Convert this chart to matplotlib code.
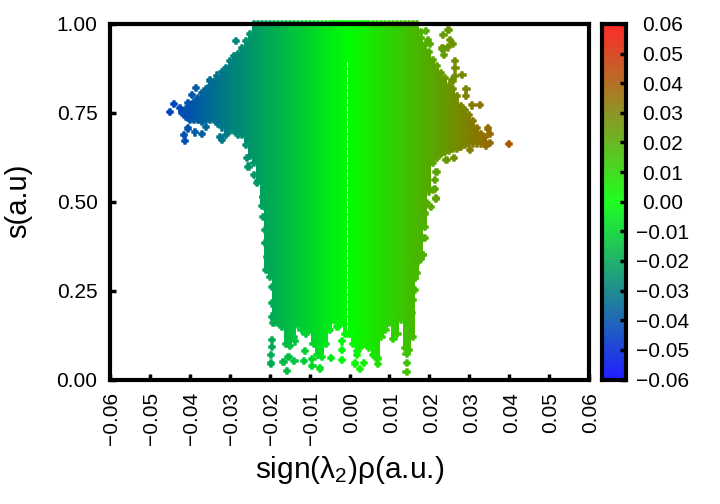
import numpy as np
import matplotlib
matplotlib.use("Agg")
import matplotlib.pyplot as plt
from matplotlib.colors import LinearSegmentedColormap, Normalize
from matplotlib.transforms import ScaledTranslation

plt.rcParams['font.family'] = ['Liberation Sans', 'DejaVu Sans']
plt.rcParams['mathtext.fontset'] = 'custom'
plt.rcParams['mathtext.rm'] = 'Liberation Sans'
plt.rcParams['mathtext.it'] = 'Liberation Sans'
plt.rcParams['mathtext.default'] = 'rm'

# Body of the cloud, column by column: sign(l2)rho, lowest s, highest s
column_x = [v / 1000 for v in range(-42, 35)]
column_low = [.74, .73, .72, .72, .72, .715, .72, .72, .72, .71, .70, .68, .69, .69, .68, .68, .65, .62, .60, .55,
              .48, .30, .28, .16, .15, .14, .09, .085, .11, .145, .13, .12, .13, .09, .06, .055, .09, .13, .16, .14,
              .15, .12, .12, .09, .07, .085, .09, .08, .06, .05, .11, .13, .15, .105, .12, .16, .08, .075, .11, .29,
              .33, .42, .52, .60, .615, .625, .63, .635, .64, .64, .645, .65, .655, .655, .655, .655, .66]
column_high = [.765, .77, .78, .79, .80, .815, .825, .835, .845, .855, .875, .885, .905, .92, .925, .94, .96, .98,
               1, 1, 1, 1, 1, 1, 1, 1, 1, 1, 1, 1, 1, 1, 1, 1, 1, 1, 1, 1, 1, 1, 1, 1, 1, 1, 1, 1, 1, 1, 1, 1,
               1, 1, 1, 1, 1, 1, 1, 1, 1, 1, .969, .95, .93, .907, .89, .87, .856, .835, .825, .806, .778, .768,
               .754, .735, .716, .70, .69]

# Individually visible points around the cloud
point_x = [-.02838, -.04488, -.04388, -.04254, -.04054, -.03946, -.03846, -.03496, -.03321, -.04113, -.04138,
           -.04054, -.03879, -.03704, -.03604, -.03196, -.03238, -.0257, -.0253, -.0232, -.0240, -.0216,
           .03996, .0248, .02354, .02513, .02596, .0233, .0247, .0236, .02638, .02654, .0283, .02638, .0258,
           .0293, .0291, .0308, .03263, .0347, .0351, .0351, .0341, .0301, .0261, .0243, .0218, .0214, .0214,
           .0216, .0191, .0179, .0197, .0201,
           -.01946, -.01946, -.01963, -.01971, -.01571, -.01654, -.01529, -.01379, -.01363, -.01138, -.01113,
           -.00929, -.00929, -.00738, -.00471, -.00179, -.00179, -.00196, .00137, .00263, .00371, .00179,
           .00721, .01429, .01446, .01429, .0204, .0216, .0183, .0185, .0189, .0164,
           -.02154, -.02113, -.02154, -.02113, -.02113, -.02071, -.02029, -.01946, -.01946, -.01946, -.01904,
           .02096, .01929, .01888, .01804, .01846, .01846, .0172, .01638, .01638, .01596, .01554]
point_s = [.952, .753, .776, .763, .777, .800, .819, .841, .855, .672, .688,
           .706, .695, .690, .711, .674, .683, .622, .599, .552, .575, .514,
           .663, .983, .970, .955, .943, .931, .934, .914, .897, .875, .856, .854, .841,
           .816, .797, .771, .773, .706, .690, .666, .657, .646, .624, .618, .583, .561, .535,
           .510, .981, .978, .955, .943,
           .111, .092, .069, .045, .024, .050, .064, .052, .107, .052, .080,
           .058, .039, .031, .061, .055, .083, .107, .045, .029, .047, .069,
           .043, .073, .047, .020, .486, .507, .439, .350, .397, .285,
           .514, .486, .458, .420, .383, .345, .308, .261, .214, .177, .158,
           .533, .496, .467, .434, .397, .350, .331, .285, .252, .224, .186]

# Thin empty seam just left of zero
seam_x = [-.00055, -.00055]
seam_s = [.14, .90]

x_ticks = [v / 100 for v in range(-6, 7)]
s_ticks = [0, .25, .5, .75, 1]
x_tick_labels = ['\u22120.06', '\u22120.05', '\u22120.04', '\u22120.03', '\u22120.02', '\u22120.01', '0.00',
                 '0.01', '0.02', '0.03', '0.04', '0.05', '0.06']
s_tick_labels = ['0.00', '0.25', '0.50', '0.75', '1.00']

cmap = LinearSegmentedColormap.from_list('bgr', ['#0000ff', '#00ff00', '#ff0000'], N=256)
cmap_bar = LinearSegmentedColormap.from_list('bgr2', ['#2020ff', '#20ff20', '#ff2a2a'], N=128)
norm = Normalize(-.06, .06)

W, H = 720, 504
fig = plt.figure(figsize=(7.2, 5.04), dpi=100)
ax = fig.add_axes([110 / W, 1 - 379.5 / H, 479 / W, 355.5 / H])
cax = fig.add_axes([601.5 / W, 1 - 379.5 / H, 24 / W, 355.5 / H])

cx, lo, hi = np.array(column_x), np.array(column_low), np.array(column_high)
inset = .009
bot = lo + inset
top = np.where(hi >= 1, 1.0, hi - inset)
ax.bar(cx, top - bot, bottom=bot, width=.00104, color=cmap(norm(cx)), linewidth=0, antialiased=False, zorder=1)
marker = dict(marker='P', s=20, linewidths=1.1, edgecolors='face', cmap=cmap, norm=norm, zorder=1.5)
ax.scatter(cx, bot, c=cx, **marker)
ax.scatter(cx[hi < 1], top[hi < 1], c=cx[hi < 1], **marker)
ax.scatter(cx[hi >= 1], hi[hi >= 1], c=cx[hi >= 1], clip_on=False, **marker)
ax.scatter(point_x, point_s, c=point_x, **marker)
ax.plot(seam_x, seam_s, color='white', lw=0.7, dashes=(6, 1.5), zorder=1.7)

ax.set_xlim(-.06, .06)
ax.set_ylim(0, 1)
ax.set_xticks(x_ticks)
ax.set_xticklabels(x_tick_labels, rotation=90, fontsize=15)
ax.set_yticks(s_ticks)
ax.set_yticklabels(s_tick_labels, fontsize=15)
ax.tick_params(axis='both', direction='in', length=4.5, width=2.5, colors='black')
ax.tick_params(axis='x', pad=9)
ax.tick_params(axis='y', pad=9)
for sp in ax.spines.values():
    sp.set_linewidth(3)
shift = ScaledTranslation(2 / 100, 0, fig.dpi_scale_trans)
for label in ax.get_xticklabels():
    label.set_transform(label.get_transform() + shift)

fig.text(350 / W, 1 - 470 / H, 'sign($\\lambda_2$)\u03c1(a.u.)', fontsize=21.5, ha='center', va='center')
fig.text(18 / W, 1 - 201 / H, 's(a.u)', fontsize=21, rotation=90, ha='center', va='center')

grad = np.linspace(-.06, .06, 128).reshape(-1, 1)
cax.imshow(grad, origin='lower', aspect='auto', cmap=cmap_bar, norm=norm, extent=[0, 1, -.06, .06],
           interpolation='nearest')
cax.set_xticks([])
cax.set_ylim(-.06, .06)
cax.yaxis.tick_right()
cax.set_yticks(x_ticks)
cax.set_yticklabels(x_tick_labels, fontsize=15, ha='center')
cax.tick_params(axis='y', direction='in', length=4.5, width=2.5, pad=26.5)
for sp in cax.spines.values():
    sp.set_linewidth(3)

fig.savefig('out.png', dpi=100)
